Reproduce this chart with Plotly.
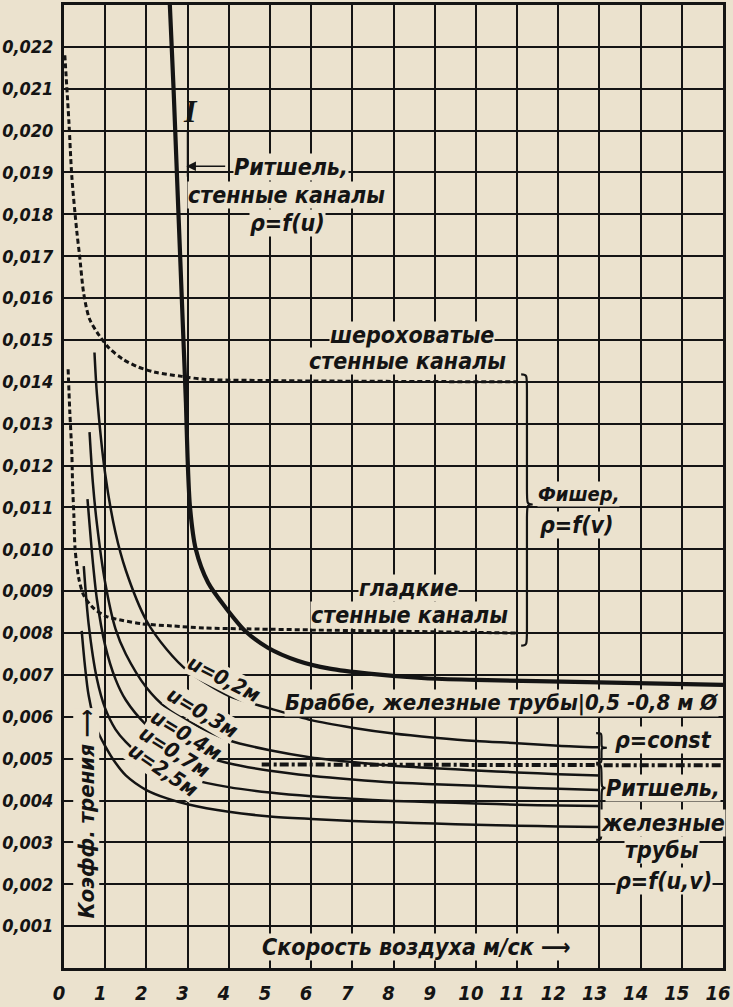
import plotly.graph_objects as go

# ---------------- data ----------------
x_tick_vals = [0, 1, 2, 3, 4, 5, 6, 7, 8, 9, 10, 11, 12, 13, 14, 15, 16]
x_tick_text = ["0", "1", "2", "3", "4", "5", "6", "7", "8", "9", "10", "11", "12", "13", "14", "15", "16"]
y_tick_vals = [0.001, 0.002, 0.003, 0.004, 0.005, 0.006, 0.007, 0.008, 0.009, 0.010, 0.011,
               0.012, 0.013, 0.014, 0.015, 0.016, 0.017, 0.018, 0.019, 0.020, 0.021, 0.022]
y_tick_text = ["0,001", "0,002", "0,003", "0,004", "0,005", "0,006", "0,007", "0,008", "0,009", "0,010", "0,011",
               "0,012", "0,013", "0,014", "0,015", "0,016", "0,017", "0,018", "0,019", "0,020", "0,021", "0,022"]

# Ritschel, wall channels, rho=f(u)  (curve I)
ritschel_wall_v = [2.57, 2.66, 2.74, 2.82, 2.90, 2.96, 3.0, 3.06, 3.2, 3.5, 3.93, 4.4, 4.95, 5.67, 6.45, 7.4, 8.76, 10.0, 12.7, 16.0]
ritschel_wall_k = [0.0230, 0.0210, 0.0190, 0.0170, 0.0150, 0.0135, 0.0122, 0.0110, 0.0100, 0.0092, 0.0086, 0.00805,
                   0.00765, 0.00734, 0.00715, 0.00703, 0.00692, 0.00688, 0.00683, 0.00676]

# Fischer, rough wall channels
fischer_rough_v = [0.02, 0.12, 0.19, 0.31, 0.38, 0.48, 0.62, 0.86, 1.1, 1.43, 1.81, 2.21, 2.86, 3.4, 5.0, 8.0, 11.0]
fischer_rough_k = [0.0218, 0.0202, 0.0189, 0.0176, 0.0170, 0.0161, 0.0155, 0.0151, 0.0148, 0.01454, 0.01435,
                   0.01423, 0.01413, 0.01406, 0.01403, 0.01401, 0.0140]

# Fischer, smooth wall channels
fischer_smooth_v = [0.1, 0.14, 0.19, 0.21, 0.24, 0.27, 0.36, 0.48, 0.71, 1.02, 1.43, 1.9, 2.62, 3.4, 4.43, 7.0, 11.0]
fischer_smooth_k = [0.0143, 0.0133, 0.0123, 0.0115, 0.0108, 0.0100, 0.0093, 0.0089, 0.0086, 0.0084, 0.0083,
                    0.00822, 0.00817, 0.00812, 0.0081, 0.00806, 0.0080]

# Ritschel, iron pipes, rho=f(u,v)
u02_v = [0.74, 0.8, 1.0, 1.25, 1.5, 2.0, 2.5, 3.0, 4.0, 5.0, 6.0, 7.0, 8.0, 9.0, 10.0, 11.0, 12.0, 13.0]
u02_k = [0.0147, 0.0137, 0.0118, 0.0104, 0.0095, 0.0083, 0.0076, 0.0071, 0.0065, 0.0062, 0.00592, 0.00574,
         0.0056, 0.0055, 0.00542, 0.00537, 0.00531, 0.00527]
u03_v = [0.62, 0.7, 0.8, 1.0, 1.25, 1.5, 2.0, 2.5, 3.0, 4.0, 5.0, 6.0, 7.0, 8.0, 9.0, 10.0, 11.0, 12.0, 13.0]
u03_k = [0.0128, 0.0116, 0.0106, 0.0092, 0.0081, 0.0075, 0.0067, 0.0062, 0.0059, 0.00544, 0.0052, 0.00503,
         0.00492, 0.00483, 0.00477, 0.00472, 0.00467, 0.00463, 0.0046]
u04_v = [0.57, 0.7, 0.8, 1.0, 1.25, 1.5, 2.0, 2.5, 3.0, 4.0, 5.0, 6.0, 7.0, 8.0, 9.0, 10.0, 11.0, 12.0, 13.0]
u04_k = [0.0112, 0.0097, 0.0088, 0.0077, 0.0069, 0.0064, 0.0058, 0.0054, 0.00518, 0.00489, 0.00471, 0.00459,
         0.0045, 0.00443, 0.00439, 0.00435, 0.00431, 0.00428, 0.00425]
u07_v = [0.48, 0.6, 0.8, 1.0, 1.25, 1.5, 2.0, 2.5, 3.0, 4.0, 5.0, 6.0, 7.0, 8.0, 9.0, 10.0, 11.0, 12.0, 13.0]
u07_k = [0.0096, 0.0082, 0.0069, 0.0062, 0.0057, 0.0054, 0.00497, 0.0047, 0.00453, 0.00432, 0.00419, 0.0041,
         0.00404, 0.00399, 0.00396, 0.00393, 0.0039, 0.00388, 0.00387]
u25_v = [0.43, 0.5, 0.6, 0.8, 1.0, 1.25, 1.5, 2.0, 2.5, 3.0, 4.0, 5.0, 6.0, 7.0, 8.0, 9.0, 10.0, 11.0, 12.0, 13.0]
u25_k = [0.00805, 0.0073, 0.0065, 0.0057, 0.0053, 0.0049, 0.0046, 0.00425, 0.00405, 0.00391, 0.00373, 0.00362,
         0.00356, 0.00351, 0.00348, 0.00345, 0.00342, 0.0034, 0.00338, 0.00337]

# Brabbe, iron pipes 0.5-0.8 m, rho=const
brabbe_v = [4.8, 16.0]
brabbe_k = [0.00486, 0.00484]

# ---------------- styling ----------------
PAPER = "#ebe2ce"
INK = "#141414"
FONT = "DejaVu Sans Condensed, Liberation Sans Narrow, DejaVu Sans, sans-serif"

fig = go.Figure()


def add_line(xs, ys, width, dash="solid", shape="spline"):
    fig.add_trace(go.Scatter(x=xs, y=ys, mode="lines",
                             line=dict(color=INK, width=width, dash=dash, shape=shape, smoothing=0.8),
                             hoverinfo="skip", showlegend=False))


add_line(fischer_rough_v, fischer_rough_k, 3, "5px,3px")
add_line(fischer_smooth_v, fischer_smooth_k, 3, "5px,3px")
add_line(u02_v, u02_k, 2.5)
add_line(u03_v, u03_k, 2.5)
add_line(u04_v, u04_k, 2.5)
add_line(u07_v, u07_k, 2.5)
add_line(u25_v, u25_k, 2.5)
add_line(brabbe_v, brabbe_k, 4, "9px,3px,3px,3px", "linear")
add_line(ritschel_wall_v, ritschel_wall_k, 4.2)


def brace(x0, ytop, ybot, ymid, w, d):
    xm = x0 + w * 0.5
    xt = x0 + w
    return (f"M {x0},{ytop} C {xm},{ytop} {xm},{ytop} {xm},{ytop - d} "
            f"L {xm},{ymid + d} C {xm},{ymid} {xm},{ymid} {xt},{ymid} "
            f"C {xm},{ymid} {xm},{ymid} {xm},{ymid - d} "
            f"L {xm},{ybot + d} C {xm},{ybot} {xm},{ybot} {x0},{ybot}")


shapes = [
    dict(type="path", path=brace(11.1, 0.01418, 0.0077, 0.01107, 0.28, 0.0004),
         xref="x", yref="y", line=dict(color=INK, width=2.2)),
    dict(type="path", path=brace(12.92, 0.00561, 0.00490, 0.00526, 0.26, 0.00012),
         xref="x", yref="y", line=dict(color=INK, width=2.2)),
    dict(type="path", path=brace(12.92, 0.00486, 0.00306, 0.0043, 0.26, 0.0003),
         xref="x", yref="y", line=dict(color=INK, width=2.2)),
    dict(type="line", x0=3.0, x1=3.0, y0=0.02000, y1=0.01890, xref="x", yref="y",
         line=dict(color=INK, width=1.6)),
]

anns = []


def txt(s, x, y, size=23, angle=0, family=FONT, weight="bold", bg=True, xanchor="center"):
    anns.append(dict(text=s, x=x, y=y, xref="x", yref="y", showarrow=False, textangle=angle,
                     xanchor=xanchor, yanchor="middle",
                     font=dict(family=family, size=size, color=INK, style="italic", weight=weight),
                     bgcolor=PAPER if bg else None, borderpad=0))


txt("I", 3.08, 0.02048, size=32, family="Liberation Serif, DejaVu Serif, serif", weight="bold", bg=False)
txt("Ритшель,", 5.5, 0.01914)
txt("стенные каналы", 5.41, 0.01846)
txt("ρ=f(u)", 5.43, 0.01779)
txt("шероховатые", 8.45, 0.01513)
txt("стенные каналы", 8.35, 0.01450)
txt("Фишер,", 12.5, 0.01131, size=20)
txt("ρ=f(v)", 12.45, 0.01059)
txt("гладкие", 8.37, 0.00907)
txt("стенные каналы", 8.39, 0.00843)
txt("u=0,2м", 3.89, 0.00691, size=21, angle=27)
txt("u=0,3м", 3.36, 0.00608, size=21, angle=31)
txt("u=0,4м", 2.96, 0.00556, size=21, angle=31)
txt("u=0,7м", 2.67, 0.00515, size=21, angle=32)
txt("u=2,5м", 2.40, 0.00473, size=21, angle=34)
txt("Браббе, железные трубы|0,5 -0,8 м Ø", 10.63, 0.00632, size=22)
txt("ρ=const", 14.55, 0.00544)
txt("Ритшель,", 14.55, 0.0043)
txt("железные", 14.55, 0.00347)
txt("трубы", 14.52, 0.00283)
txt("ρ=f(u,v)", 14.57, 0.00207)
txt("Коэфф. трения ⟶", 0.55, 0.00368, angle=-90, size=22)
txt("Скорость воздуха м/ск ⟶", 8.55, 0.0005, size=23)

# arrow pointing to curve I
anns.append(dict(x=2.97, y=0.01915, ax=3.95, ay=0.01915, xref="x", yref="y", axref="x", ayref="y",
                 text="", showarrow=True, arrowhead=2, arrowsize=1.2, arrowwidth=1.6, arrowcolor=INK))

fig.update_layout(
    width=733, height=1007,
    margin=dict(l=62, r=7, t=2, b=38),
    paper_bgcolor=PAPER, plot_bgcolor=PAPER,
    showlegend=False,
    shapes=shapes, annotations=anns,
    xaxis=dict(range=[0, 16], tickvals=x_tick_vals, ticktext=x_tick_text,
               showgrid=True, gridcolor=INK, gridwidth=2, zeroline=False,
               showline=True, linecolor=INK, linewidth=3, mirror=True, ticks="",
               tickfont=dict(family=FONT, size=20, color=INK, style="italic", weight="bold"),
               ticklabelstandoff=5, ticklabeloverflow="allow", ticklabelshift=-5),
    yaxis=dict(range=[0, 0.023], tickvals=y_tick_vals, ticktext=y_tick_text,
               showgrid=True, gridcolor=INK, gridwidth=2, zeroline=False,
               showline=True, linecolor=INK, linewidth=3, mirror=True, ticks="",
               tickfont=dict(family=FONT, size=18, color=INK, style="italic", weight="bold"),
               ticklabelstandoff=4),
)

fig.write_html("out.html", config={"displayModeBar": False},
               post_script="document.body.style.margin='0';document.body.style.background='" + PAPER + "';")
